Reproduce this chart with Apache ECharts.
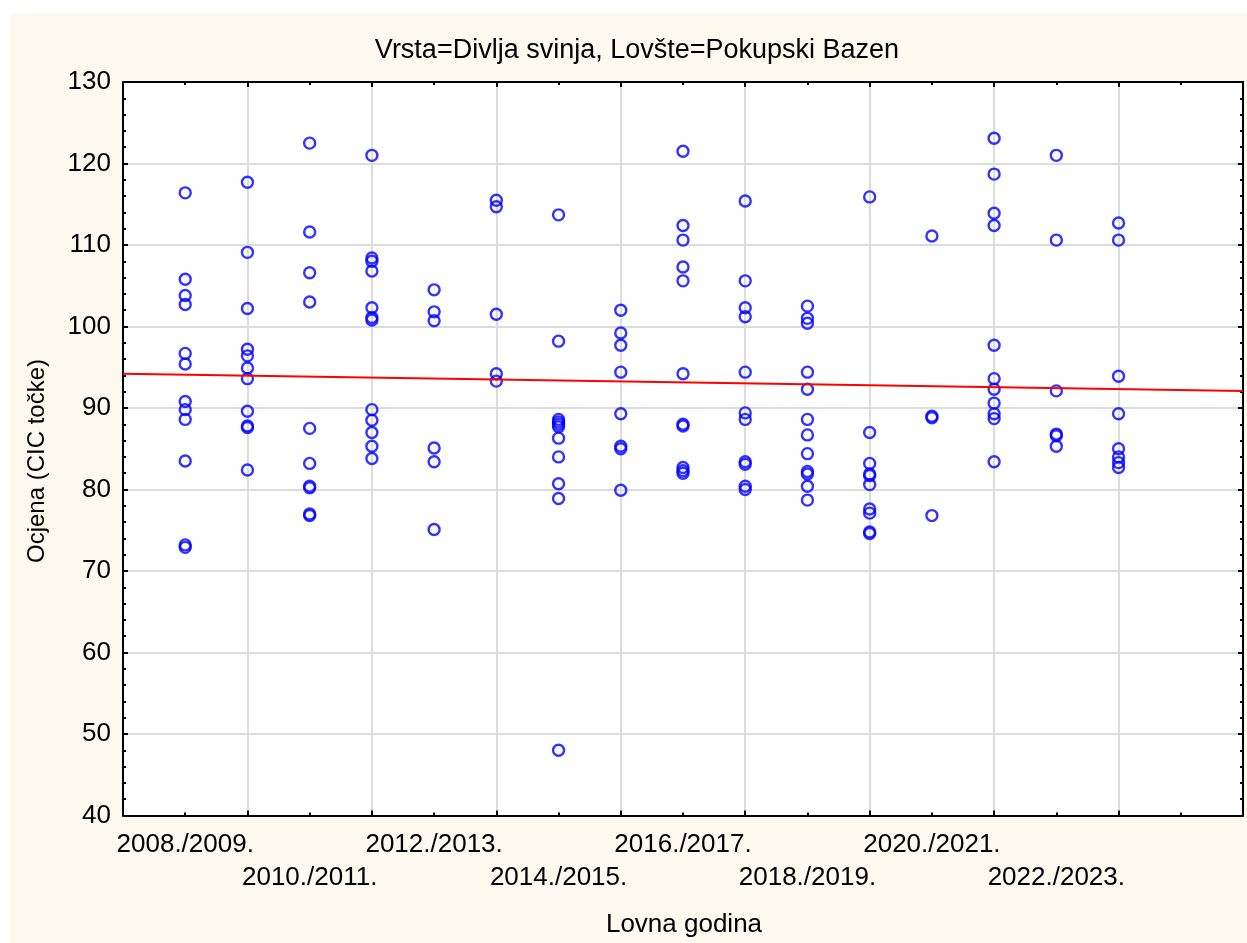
<!DOCTYPE html>
<html>
<head>
<meta charset="utf-8">
<script src="https://cdn.jsdelivr.net/npm/echarts@6/dist/echarts.min.js"></script>
<style>
  html, body { margin: 0; padding: 0; background: #ffffff; }
  #bg { position: absolute; left: 10px; top: 14px; width: 1237px; height: 929px; background: #fdf9ef; }
  #chart { position: absolute; left: 0; top: 0; width: 1247px; height: 943px; }
</style>
</head>
<body>
<div id="bg"></div>
<div id="chart"></div>
<script>
// ---- data ----
const seasons = ["2008./2009.", "2009./2010.", "2010./2011.", "2011./2012.", "2012./2013.", "2013./2014.",
  "2014./2015.", "2015./2016.", "2016./2017.", "2017./2018.", "2018./2019.", "2019./2020.",
  "2020./2021.", "2021./2022.", "2022./2023.", "2023./2024."];

const s0809 = [116.4, 105.8, 103.8, 102.7, 96.7, 95.4, 90.8, 89.8, 88.6, 83.5, 73.2, 72.9];
const s0910 = [117.7, 109.1, 102.2, 97.2, 96.4, 94.9, 93.6, 89.6, 87.8, 87.6, 82.4];
const s1011 = [122.5, 111.6, 106.6, 103.0, 87.5, 83.2, 80.4, 80.2, 77.0, 76.8];
const s1112 = [121.0, 108.4, 108.0, 106.8, 102.3, 101.1, 100.8, 89.8, 88.5, 87.0, 85.3, 83.8];
const s1213 = [104.5, 101.8, 100.7, 85.1, 83.4, 75.1];
const s1314 = [115.5, 114.7, 101.5, 94.2, 93.3];
const s1415 = [113.7, 98.2, 88.6, 88.3, 88.0, 87.7, 86.3, 84.0, 80.7, 78.9, 48.0];
const s1516 = [102.0, 99.2, 97.7, 94.4, 89.3, 85.3, 85.0, 79.9];
const s1617 = [121.5, 112.4, 110.6, 107.3, 105.6, 94.2, 88.0, 87.8, 82.7, 82.3, 82.0];
const s1718 = [115.4, 105.6, 102.3, 101.2, 94.4, 89.4, 88.6, 83.4, 83.1, 80.4, 80.0];
const s1819 = [102.5, 101.0, 100.4, 94.4, 92.3, 88.6, 86.7, 84.4, 82.2, 81.9, 80.4, 78.7];
const s1920 = [115.9, 87.0, 83.2, 81.9, 81.7, 80.6, 77.6, 77.1, 74.8, 74.6];
const s2021 = [111.1, 89.0, 88.8, 76.8];
const s2122 = [123.1, 118.7, 113.9, 112.4, 97.7, 93.6, 92.3, 90.6, 89.3, 88.7, 83.4];
const s2223 = [121.0, 110.6, 92.1, 86.8, 86.6, 85.3];
const s2324 = [112.7, 110.6, 93.9, 89.3, 85.0, 84.0, 83.3, 82.7];

const scores = [s0809, s0910, s1011, s1112, s1213, s1314, s1415, s1516,
  s1617, s1718, s1819, s1920, s2021, s2122, s2223, s2324];

// fitted line values at the left and right edges of the plot
const trendEnds = [94.2, 92.1];

const yTicks = [40, 50, 60, 70, 80, 90, 100, 110, 120, 130];

// ---- build ----
const XMIN = 0, XMAX = seasons.length + 2;
const points = [];
scores.forEach((arr, i) => arr.forEach(v => points.push([i + 1, v])));

const FONT = "'Liberation Sans', Arial, sans-serif";
const FS = 26;

const chart = echarts.init(document.getElementById('chart'), null, { renderer: 'canvas' });

const baseX = {
  type: 'value', min: XMIN, max: XMAX, interval: 2,
  axisLine: { show: true, onZero: false, lineStyle: { color: '#000', width: 2 } },
  axisTick: { show: true, inside: true, length: 5, lineStyle: { color: '#000', width: 2 } },
  minorTick: { show: true, splitNumber: 2, length: 3, lineStyle: { color: '#000', width: 2 } },
  axisLabel: { show: false },
  splitLine: { show: false }
};
const baseY = {
  type: 'value', min: yTicks[0], max: yTicks[yTicks.length - 1], interval: 10,
  axisLine: { show: true, onZero: false, lineStyle: { color: '#000', width: 2 } },
  axisTick: { show: true, inside: true, length: 5, lineStyle: { color: '#000', width: 2 } },
  minorTick: { show: true, splitNumber: 5, length: 3, lineStyle: { color: '#000', width: 2 } },
  axisLabel: { show: false },
  splitLine: { show: false }
};

chart.setOption({
  backgroundColor: 'transparent',
  animation: false,
  grid: { left: 123, right: 4, top: 82, bottom: 127.5, show: true, backgroundColor: '#ffffff', borderWidth: 0 },
  xAxis: [
    Object.assign({}, baseX, {
      position: 'bottom',
      splitLine: { show: true, lineStyle: { color: '#dcdcdc', width: 2 } }
    }),
    Object.assign({}, baseX, { position: 'top' }),
    {
      type: 'value', min: XMIN, max: XMAX, interval: 1, position: 'bottom',
      axisLine: { show: false }, axisTick: { show: false }, splitLine: { show: false },
      axisLabel: {
        show: true, margin: 13, color: '#000', fontFamily: FONT, fontSize: FS, lineHeight: 33,
        showMinLabel: true, showMaxLabel: true,
        formatter: function (v) {
          const idx = Math.round(v) - 1;
          if (idx < 0 || idx >= seasons.length || idx % 2 !== 0) return '';
          return (idx / 2) % 2 === 0 ? seasons[idx] : '\n' + seasons[idx];
        }
      }
    }
  ],
  yAxis: [
    Object.assign({}, baseY, {
      position: 'left',
      splitLine: { show: true, lineStyle: { color: '#dcdcdc', width: 2 } },
      axisLabel: { show: true, margin: 12, color: '#000', fontFamily: FONT, fontSize: FS }
    }),
    Object.assign({}, baseY, { position: 'right' })
  ],
  graphic: [
    { type: 'text', x: 637, y: 51, z: 100,
      style: { text: 'Vrsta=Divlja svinja, Lovšte=Pokupski Bazen', font: '27px ' + FONT, fill: '#000',
               textAlign: 'center', textVerticalAlign: 'middle' } },
    { type: 'text', x: 684, y: 925, z: 100,
      style: { text: 'Lovna godina', font: FS + 'px ' + FONT, fill: '#000',
               textAlign: 'center', textVerticalAlign: 'middle' } },
    { type: 'text', x: 37, y: 461, rotation: Math.PI / 2, z: 100,
      style: { text: 'Ocjena (CIC točke)', font: '24px ' + FONT, fill: '#000',
               textAlign: 'center', textVerticalAlign: 'middle' } }
  ],
  series: [
    {
      type: 'scatter', xAxisIndex: 0, yAxisIndex: 0,
      symbol: 'circle', symbolSize: 11,
      itemStyle: { color: 'rgba(0,0,0,0)', borderColor: '#0000ff', borderWidth: 2.4 },
      data: points, z: 3
    },
    {
      type: 'line', xAxisIndex: 0, yAxisIndex: 0,
      showSymbol: false, symbol: 'none',
      lineStyle: { color: '#ff0000', width: 2 },
      data: [[XMIN, trendEnds[0]], [XMAX, trendEnds[1]]], z: 4
    }
  ]
});
</script>
</body>
</html>
